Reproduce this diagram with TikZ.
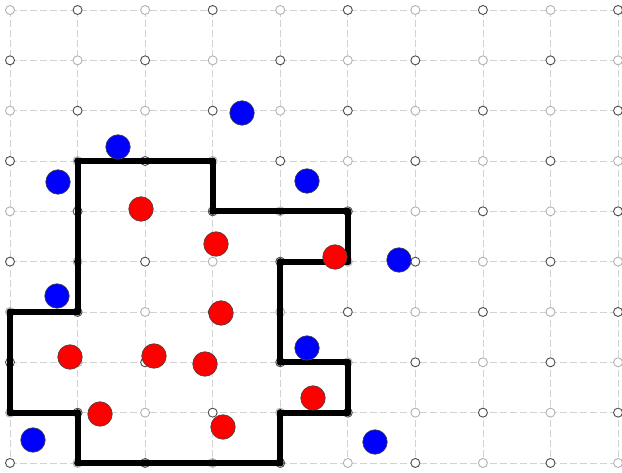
\documentclass[tikz,border=0pt]{standalone}
\usetikzlibrary{backgrounds}

\begin{document}
\begin{tikzpicture}[
        x = 1pt, y = -1pt,
        grid line/.style = {draw = gray!35, line width = 0.8pt, dash pattern = on 7pt off 3pt},
        lattice/.style = {circle, fill = white, line width = 0.9pt, inner sep = 0pt, minimum size = 9pt},
        dark lattice/.style = {lattice, draw = black!70},
        pale lattice/.style = {lattice, draw = black!30},
        fence/.style = {line width = 6pt, line join = round, line cap = round},
        post/.style = {circle, fill = black, inner sep = 0pt, minimum size = 7pt},
        ball/.style = {circle, draw = black!75, line width = 0.6pt, inner sep = 0pt, minimum size = 24.5pt},
        blue ball/.style = {ball, fill = blue},
        red ball/.style = {ball, fill = red}
    ]
    \useasboundingbox (0,0) rectangle (622,473);

    % lattice points, light and dark in turn
    \foreach \i in {0,...,9}
        \foreach \j in {0,...,9} {
            \pgfmathsetmacro{\gx}{10 + 67.56*\i}
            \pgfmathsetmacro{\gy}{10 + 50.33*\j}
            \pgfmathtruncatemacro{\sumij}{\i + \j}
            \ifodd\sumij
                \node[dark lattice] (g-\i-\j) at (\gx,\gy) {};
            \else
                \node[pale lattice] (g-\i-\j) at (\gx,\gy) {};
            \fi
        }

    \begin{scope}[on background layer]
        \foreach \k in {0,...,9} {
            \draw[grid line] (g-\k-0.center) -- (g-\k-9.center);
            \draw[grid line] (g-0-\k.center) -- (g-9-\k.center);
        }
    \end{scope}

    % the fence
    \draw[fence] (g-1-3.center) -- (g-3-3.center) -- (g-3-4.center) -- (g-5-4.center)
        -- (g-5-5.center) -- (g-4-5.center) -- (g-4-7.center) -- (g-5-7.center)
        -- (g-5-8.center) -- (g-4-8.center) -- (g-4-9.center) -- (g-1-9.center)
        -- (g-1-8.center) -- (g-0-8.center) -- (g-0-6.center) -- (g-1-6.center) -- cycle;

    \foreach \p in {1-3, 3-3, 3-4, 4-4, 5-4, 5-5, 4-5, 4-7, 5-7, 5-8,
                    4-8, 4-9, 3-9, 2-9, 1-9, 1-8, 0-8, 0-6, 1-6, 1-5}
        \node[post] (post-\p) at (g-\p) {};

    % balls
    \foreach \name/\bx/\by in {b1/242/113, b2/118/147, b3/58/182, b4/307/181, b5/399/260,
                              b6/57/296, b7/307/348, b8/33/440, b9/375/442}
        \node[blue ball] (\name) at (\bx,\by) {};

    \foreach \name/\bx/\by in {r1/141/209, r2/216/244, r3/335/257, r4/221/313, r5/70/357,
                              r6/154/356, r7/205/364, r8/100/414, r9/313/398, r10/223/427}
        \node[red ball] (\name) at (\bx,\by) {};
\end{tikzpicture}
\end{document}
